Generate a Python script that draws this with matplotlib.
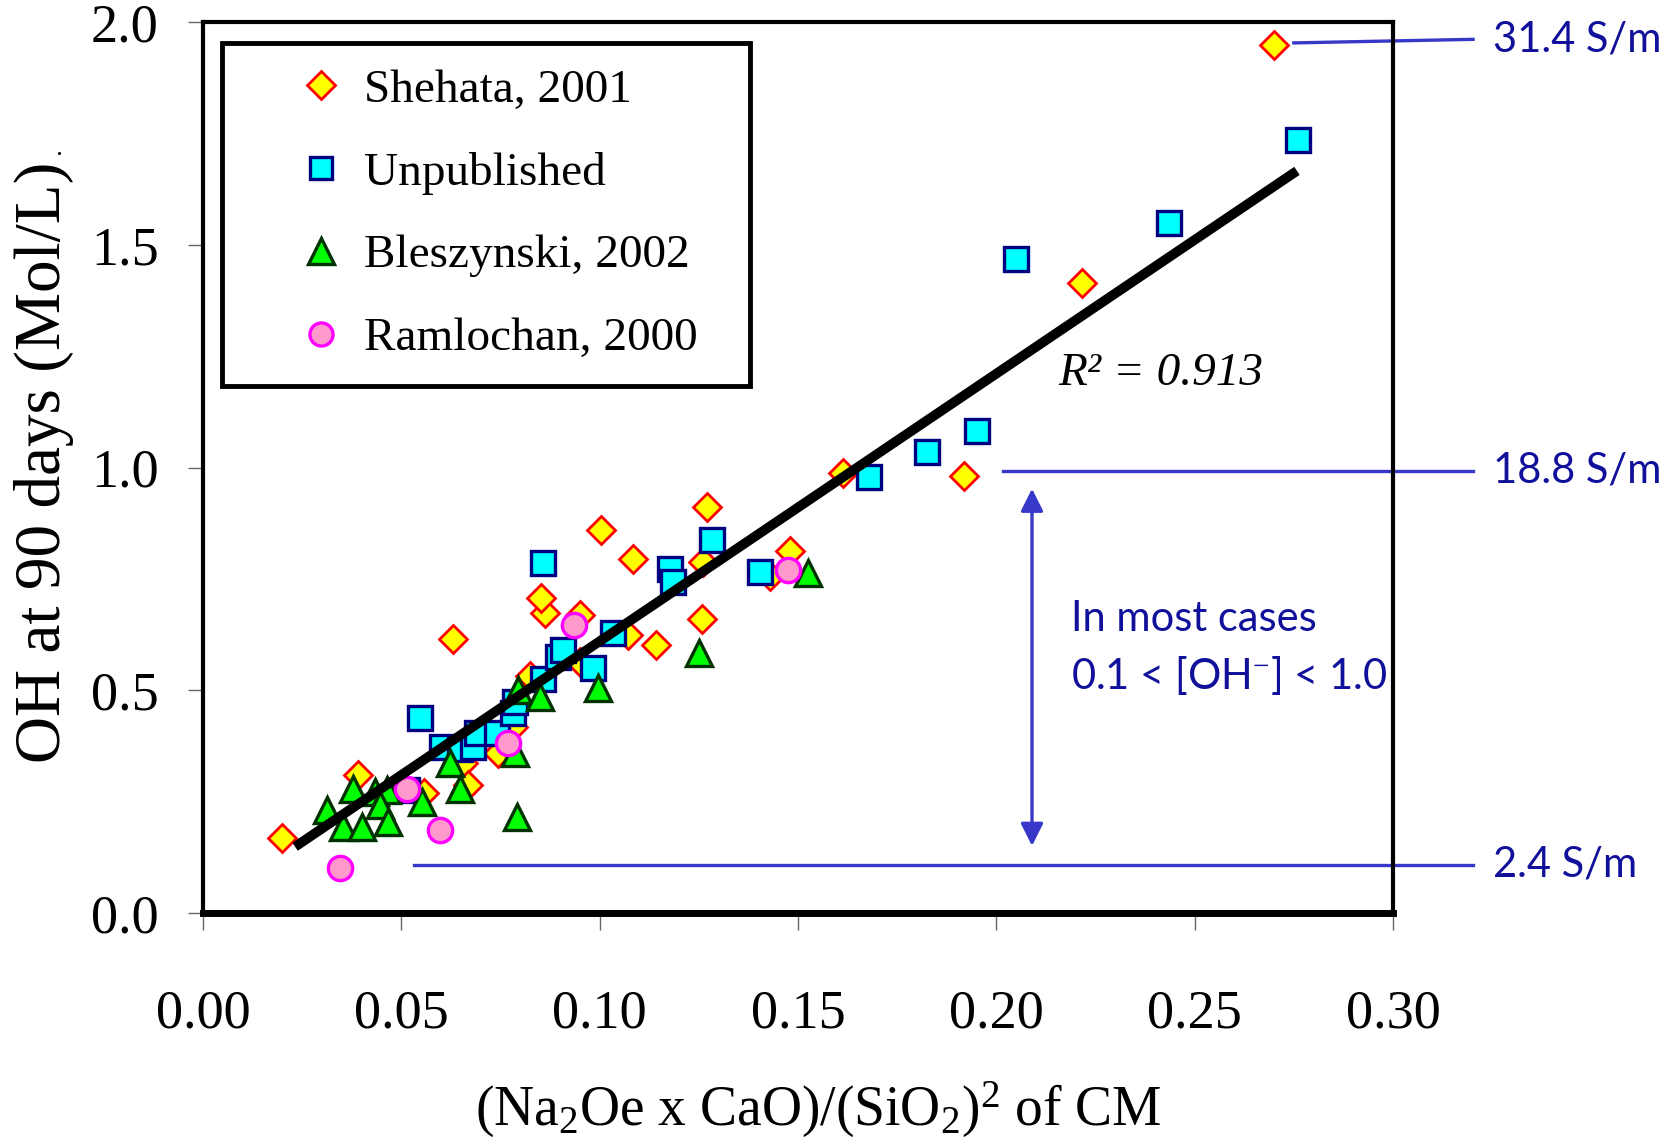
import matplotlib
matplotlib.use("Agg")
import matplotlib.pyplot as plt

plt.rcParams['font.family'] = ['Liberation Serif', 'DejaVu Serif']
plt.rcParams['mathtext.fontset'] = 'custom'
plt.rcParams['mathtext.rm'] = 'Liberation Serif'
plt.rcParams['mathtext.it'] = 'Liberation Serif:italic'

# data
shehata_x = [0.020, 0.039, 0.063, 0.0862, 0.0853, 0.0824, 0.0782, 0.0744, 0.0656, 0.0669,
             0.0556, 0.095, 0.1003, 0.1084, 0.1072, 0.1143, 0.095, 0.127, 0.1261, 0.1257,
             0.1429, 0.148, 0.1613, 0.1919, 0.2217, 0.2699]
shehata_y = [0.167, 0.310, 0.614, 0.673, 0.707, 0.532, 0.418, 0.358, 0.336, 0.287,
             0.269, 0.669, 0.860, 0.795, 0.624, 0.601, 0.564, 0.912, 0.788, 0.659,
             0.757, 0.813, 0.988, 0.981, 1.415, 1.950]

unpub_x = [0.0513, 0.0547, 0.0602, 0.0648, 0.0681, 0.069, 0.074, 0.0782, 0.0786, 0.0857,
           0.0857, 0.0895, 0.0908, 0.0984, 0.1034, 0.1177, 0.1186, 0.1282, 0.1403, 0.1679,
           0.1824, 0.1951, 0.205, 0.2435, 0.2761]
unpub_y = [0.276, 0.437, 0.373, 0.369, 0.373, 0.403, 0.403, 0.448, 0.474, 0.526,
           0.785, 0.575, 0.590, 0.549, 0.628, 0.773, 0.743, 0.837, 0.765, 0.978,
           1.036, 1.082, 1.468, 1.549, 1.736]

blesz_x = [0.0312, 0.0379, 0.0354, 0.0400, 0.0434, 0.0463, 0.0446, 0.0467, 0.0552, 0.0623,
           0.0648, 0.0791, 0.0787, 0.0795, 0.085, 0.0996, 0.125, 0.1526]
blesz_y = [0.231, 0.279, 0.193, 0.193, 0.272, 0.276, 0.242, 0.204, 0.249, 0.336,
           0.279, 0.216, 0.358, 0.500, 0.485, 0.504, 0.583, 0.763]

ramlo_x = [0.0346, 0.0513, 0.0597, 0.077, 0.0934, 0.1475]
ramlo_y = [0.100, 0.279, 0.186, 0.381, 0.646, 0.770]

fit_x = [0.0232, 0.2758]
fit_slope = 6.01
fit_intercept = 0.009

x_ticks = [0.00, 0.05, 0.10, 0.15, 0.20, 0.25, 0.30]
y_ticks = [0.0, 0.5, 1.0, 1.5, 2.0]

# conductivity marker lines: (x start, y start, y end, label)
cond_lines = [(0.2750, 1.954, 1.962, "31.4 S/m"),
              (0.2018, 0.993, 0.993, "18.8 S/m"),
              (0.0533, 0.108, 0.108, "2.4 S/m")]
line_end_x = 0.3202

fig = plt.figure(figsize=(16.74, 11.44), dpi=100)
ax = fig.add_axes([0.1213, 0.2021, 0.8321 - 0.1213, 0.9804 - 0.2021])

ax.plot(shehata_x, shehata_y, 'D', ms=14.5, mfc='#ffff00', mec='#ff0000', mew=2, ls='none',
        label='Shehata, 2001', zorder=3)
ax.plot(unpub_x, unpub_y, 's', ms=17, mfc='#00ffff', mec='#000080', mew=2.4, ls='none',
        label='Unpublished', zorder=3)
ax.plot(blesz_x, blesz_y, '^', ms=19, mfc='#00ff00', mec='#003300', mew=2.4, ls='none',
        label='Bleszynski, 2002', zorder=3)
ax.plot(ramlo_x, ramlo_y, 'o', ms=17.5, mfc='#ff99cc', mec='#ff00ff', mew=2.4, ls='none',
        label='Ramlochan, 2000', zorder=3)

fit_y = [fit_slope * v + fit_intercept for v in fit_x]
ax.plot(fit_x, fit_y, color='black', lw=7, solid_capstyle='butt', zorder=4)

ax.set_xlim(0, 0.30)
ax.set_ylim(0, 2.0)
ax.set_xticks(x_ticks)
ax.set_xticklabels(["%.2f" % v for v in x_ticks])
ax.set_yticks(y_ticks)
ax.set_yticklabels(["%.1f" % v for v in y_ticks])
ax.tick_params(axis='x', direction='out', length=12, width=1, color='#666666',
               labelsize=39, pad=43)
ax.tick_params(axis='y', direction='out', length=11, width=1, color='#666666',
               labelsize=39, pad=21)
for s in ['top', 'left', 'right']:
    ax.spines[s].set_linewidth(3)
ax.spines['bottom'].set_linewidth(5)

leg = ax.legend(loc='upper left', bbox_to_anchor=(0.016, 0.596, 0.444, 0.381),
                mode='expand', borderaxespad=0,
                fontsize=34, frameon=True, fancybox=False, edgecolor='black',
                framealpha=1, markerscale=0.95, handlelength=3.1, handletextpad=-0.65,
                labelspacing=0.84, borderpad=0.55)
leg.get_frame().set_linewidth(3.5)

ax.text(0.2155, 1.21, "R² = 0.913", fontsize=34, style='italic', va='center', ha='left')

navy = '#10109a'
blue = '#3838c8'
for x0, y0, y1, lab in cond_lines:
    ax.plot([x0, line_end_x], [y0, y1], color=blue, lw=2.4, clip_on=False, zorder=2)
    ax.text(line_end_x + 0.005, y1, lab, fontsize=30, family='Lato', color=navy,
            va='center', ha='left', clip_on=False)

ax.annotate('', xy=(0.209, 0.959), xytext=(0.209, 0.144),
            arrowprops=dict(arrowstyle='<|-|>', color=blue, lw=2.4, mutation_scale=34))
ax.text(0.2188, 0.659, "In most cases", fontsize=30, family='Lato', color=navy,
        va='center', ha='left')
ax.text(0.2188, 0.532, "0.1 < [OH$^{-}$] < 1.0", fontsize=30, family='Lato', color=navy,
        va='center', ha='left')

fig.text(0.489, 0.03, r"(Na$_2$Oe x CaO)/(SiO$_2$)$^2$ of CM", fontsize=40,
         ha='center', va='center')
fig.text(0.026, 0.596, "OH at 90 days (Mol/L)", fontsize=47, rotation=90,
         ha='center', va='center')
fig.text(0.035, 0.87, ".", fontsize=20, ha='center', va='center')

fig.savefig("out.png", dpi=100)
